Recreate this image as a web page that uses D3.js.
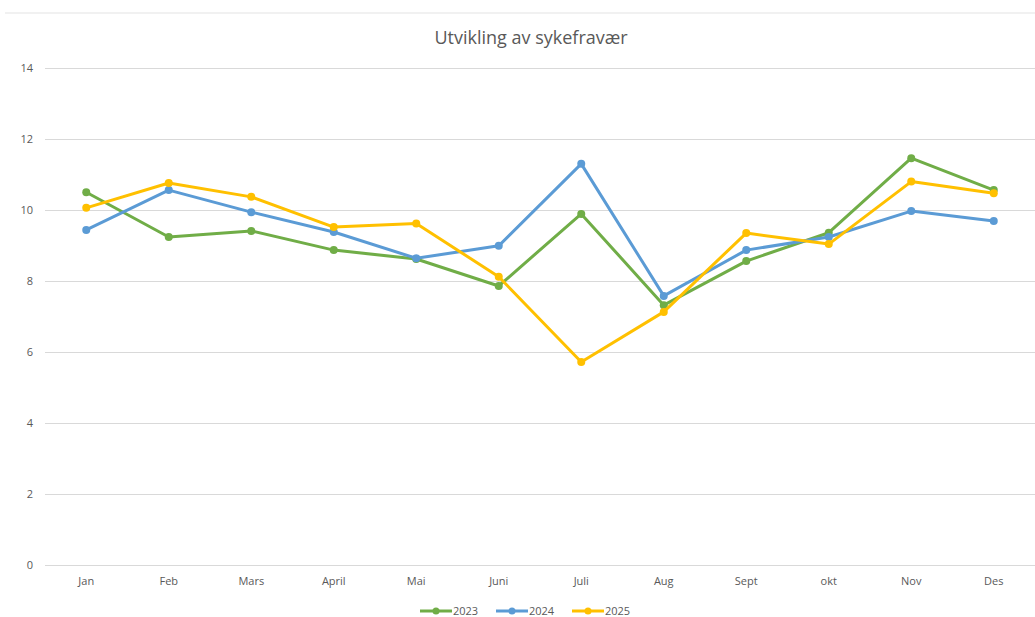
<!DOCTYPE html>
<html>
<head>
<meta charset="utf-8">
<script src="https://cdn.jsdelivr.net/npm/d3@7"></script>
<style>
  body { margin: 0; background: #fff; }
  text { font-family: "Open Sans", "Noto Sans", sans-serif; fill: #595959; }
</style>
</head>
<body>
<div id="chart"></div>
<script>
//Chart size
var width = 1035, height = 617;
var margin = {top: 68, right: 0, bottom: 52, left: 45};

//Data
var months = ["Jan", "Feb", "Mars", "April", "Mai", "Juni", "Juli", "Aug", "Sept", "okt", "Nov", "Des"];
var years = ["2023", "2024", "2025"];
var values2023 = [10.5, 9.24, 9.41, 8.87, 8.62, 7.86, 9.89, 7.32, 8.56, 9.36, 11.46, 10.56];
var values2024 = [9.44, 10.56, 9.94, 9.38, 8.64, 8.99, 11.3, 7.58, 8.87, 9.24, 9.97, 9.69];
var values2025 = [10.06, 10.76, 10.37, 9.52, 9.62, 8.12, 5.72, 7.13, 9.35, 9.04, 10.8, 10.47];
var yTicks = [0, 2, 4, 6, 8, 10, 12, 14];
var colors = ["#70AD47", "#5B9BD5", "#FFC000"];

var series = [values2023, values2024, values2025];

var svg = d3.select("#chart").append("svg")
    .attr("width", width)
    .attr("height", height);

var x = d3.scaleBand()
    .domain(months)
    .range([margin.left, width - margin.right]);

var y = d3.scaleLinear()
    .domain([0, 14])
    .range([height - margin.bottom, margin.top]);

//top frame line
svg.append("line")
    .attr("x1", 5).attr("x2", width)
    .attr("y1", 13).attr("y2", 13)
    .attr("stroke", "#e3e3e3")
    .attr("stroke-width", 1);

//title
svg.append("text")
    .attr("x", 531)
    .attr("y", 44)
    .attr("text-anchor", "middle")
    .attr("style", "font-size: 18px")
    .text("Utvikling av sykefravær");

//gridlines + y labels
var yAxis = svg.append("g")
    .attr("transform", "translate(" + margin.left + ",0)")
    .call(d3.axisLeft(y).tickValues(yTicks).tickSize(-(width - margin.left - margin.right)).tickPadding(12));
yAxis.select(".domain").remove();
yAxis.selectAll("line").attr("stroke", "#d9d9d9");
yAxis.selectAll("text").attr("style", "font-size: 11px").attr("fill", "#595959");

//x labels
var xAxis = svg.append("g")
    .attr("transform", "translate(0," + (height - margin.bottom) + ")")
    .call(d3.axisBottom(x).tickSize(0).tickPadding(12));
xAxis.select(".domain").remove();
xAxis.selectAll("text").attr("style", "font-size: 11px").attr("fill", "#595959");

var line = d3.line()
    .x(function(d, i) { return x(months[i]) + x.bandwidth() / 2; })
    .y(function(d) { return y(d); });

//lines with markers
for (var s = 0; s < series.length; s++){
    var g = svg.append("g");
    g.append("path")
        .datum(series[s])
        .attr("fill", "none")
        .attr("stroke", colors[s])
        .attr("stroke-width", 3)
        .attr("stroke-linejoin", "round")
        .attr("d", line);
    g.selectAll("circle")
        .data(series[s])
        .enter().append("circle")
        .attr("cx", function(d, i) { return x(months[i]) + x.bandwidth() / 2; })
        .attr("cy", function(d) { return y(d); })
        .attr("r", 4)
        .attr("fill", colors[s]);
}

//legend
var legendX = [420, 496, 572];
for (var i = 0; i < years.length; i++){
    var lg = svg.append("g");
    lg.append("line")
        .attr("x1", legendX[i]).attr("x2", legendX[i] + 32)
        .attr("y1", 611).attr("y2", 611)
        .attr("stroke", colors[i])
        .attr("stroke-width", 3);
    lg.append("circle")
        .attr("cx", legendX[i] + 16).attr("cy", 611)
        .attr("r", 3.5)
        .attr("fill", colors[i]);
    lg.append("text")
        .attr("x", legendX[i] + 33)
        .attr("y", 615)
        .attr("style", "font-size: 11px")
        .text(years[i]);
}
</script>
</body>
</html>
